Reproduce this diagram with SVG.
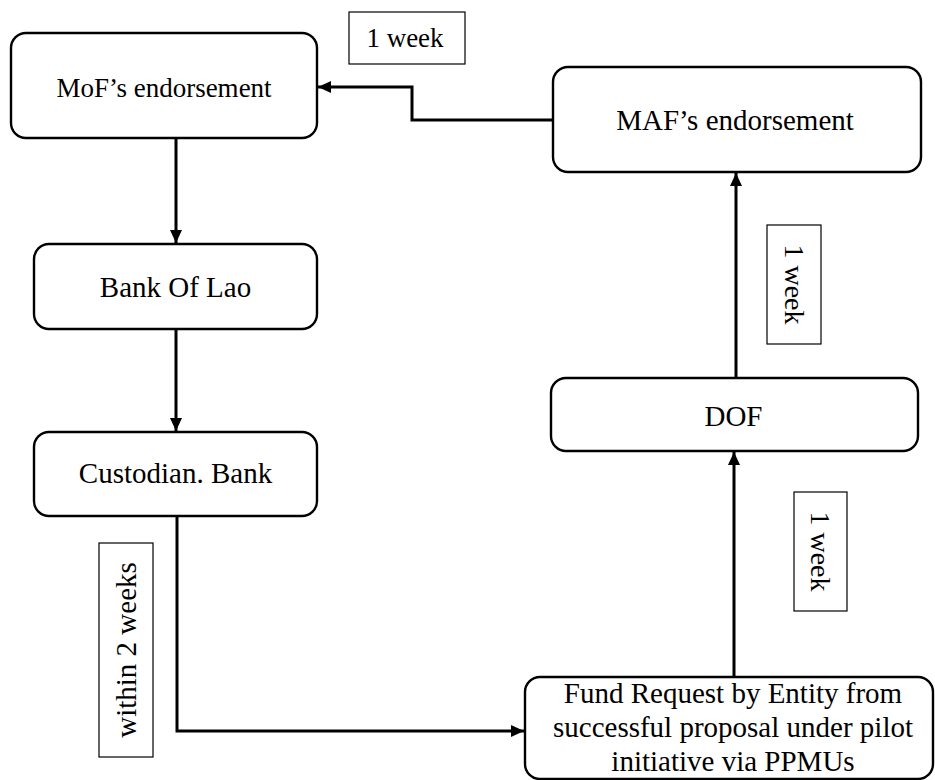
<svg xmlns="http://www.w3.org/2000/svg" width="935" height="780" viewBox="0 0 935 780">
  <style>
    .node rect { fill: #ffffff; stroke: #000000; stroke-width: 2.4; }
    .lbl rect { fill: #ffffff; stroke: #000000; stroke-width: 1.2; }
    text { font-family: "Liberation Serif", "Times New Roman", serif; fill: #000000; text-anchor: middle; }
    .t { font-size: 29px; }
    .conn path { fill: none; stroke: #000000; stroke-width: 3; }
  </style>
  <defs>
    <marker id="arr" markerUnits="userSpaceOnUse" markerWidth="14" markerHeight="12" refX="13" refY="6" orient="auto">
      <path d="M0,0 L13,6 L0,12 z" fill="#000000"/>
    </marker>
  </defs>
  <rect width="935" height="780" fill="#ffffff"/>

  <g id="connectors" class="conn">
    <path d="M553,120 H412 V87 H318" marker-end="url(#arr)"/>
    <path d="M176,138 V243" marker-end="url(#arr)"/>
    <path d="M176,329 V431" marker-end="url(#arr)"/>
    <path d="M177,516 V731 H524" marker-end="url(#arr)"/>
    <path d="M734,677 V452" marker-end="url(#arr)"/>
    <path d="M736,378 V173" marker-end="url(#arr)"/>
  </g>

  <g id="mof" class="node">
    <rect x="11" y="33" width="306" height="105" rx="15"/>
    <text x="164" y="97" style="font-size:27px">MoF’s endorsement</text>
  </g>
  <g id="maf" class="node">
    <rect x="553" y="67" width="368" height="105" rx="15"/>
    <text class="t" x="735" y="130">MAF’s endorsement</text>
  </g>
  <g id="bank-of-lao" class="node">
    <rect x="34" y="244" width="283" height="85" rx="15"/>
    <text class="t" x="175.5" y="297">Bank Of Lao</text>
  </g>
  <g id="custodian-bank" class="node">
    <rect x="34" y="432" width="283" height="84" rx="15"/>
    <text class="t" x="175.5" y="483">Custodian. Bank</text>
  </g>
  <g id="dof" class="node">
    <rect x="551" y="378" width="367" height="73" rx="15"/>
    <text class="t" x="733.5" y="426">DOF</text>
  </g>
  <g id="fund-request" class="node">
    <rect x="525" y="677" width="408" height="102" rx="15"/>
    <text class="t" x="733" y="703">Fund Request by Entity from</text>
    <text class="t" x="733" y="737">successful proposal under pilot</text>
    <text class="t" x="733" y="771">initiative via PPMUs</text>
  </g>

  <g id="label-1week-top" class="lbl">
    <rect x="349" y="12" width="116" height="52"/>
    <text x="405" y="47" style="font-size:27px">1 week</text>
  </g>
  <g id="label-1week-mid" class="lbl">
    <rect x="767" y="225" width="54" height="119"/>
    <text transform="translate(794,284.5) rotate(90)" x="0" y="0" dy="0.33em" style="font-size:28px">1 week</text>
  </g>
  <g id="label-1week-low" class="lbl">
    <rect x="794" y="492" width="53" height="119"/>
    <text transform="translate(820.5,551.5) rotate(90)" x="0" y="0" dy="0.33em" style="font-size:28px">1 week</text>
  </g>
  <g id="label-within-2-weeks" class="lbl">
    <rect x="99" y="543" width="54" height="214"/>
    <text transform="translate(126,650) rotate(-90)" x="0" y="0" dy="0.33em" style="font-size:29px">within 2 weeks</text>
  </g>
</svg>
